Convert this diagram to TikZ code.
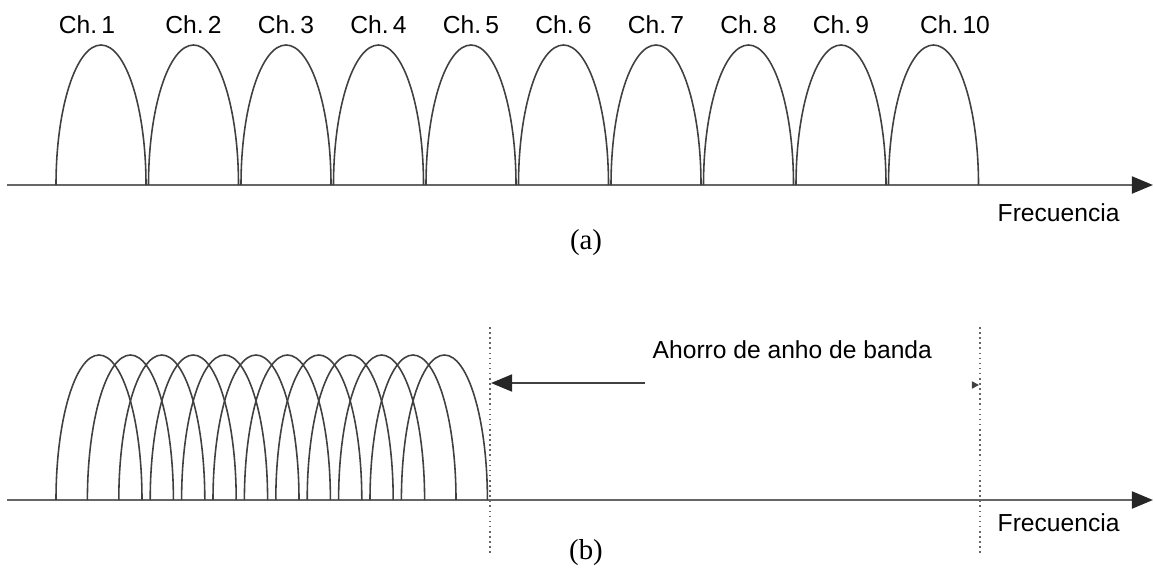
\documentclass[tikz,border=0pt]{standalone}
\usepackage{fontspec}
\setmainfont{Liberation Sans}
\newfontfamily\capfont{Liberation Serif}
\usetikzlibrary{arrows.meta}

\tikzset{
  axis/.style={draw=black!60, line width=0.7pt, -{Triangle[length=6pt,width=4.8pt,color=black!85]}},
  lobe/.style={draw=black!75, line width=0.45pt},
  guide/.style={draw=black!60, line width=0.45pt, densely dotted},
  lbl/.style={font=\fontsize{7}{8}\selectfont, inner sep=0pt},
  subcap/.style={font=\capfont\fontsize{8.2}{9}\selectfont, inner sep=0pt}
}

\begin{document}
\begin{tikzpicture}[x=0.01cm, y=0.01cm]

\useasboundingbox (0,0) rectangle (1155,575);

% (a) separate channels
\coordinate (a0) at (7,390);
\coordinate (a1) at (1153,390);
\draw[axis] (a0) -- (a1);

\foreach \i in {0,...,9}
  \draw[lobe] (56+92.5*\i,390) arc[start angle=180, end angle=0, x radius=45, y radius=140];

% Channel labels
\node[lbl] (ch1) at (87,550) {Ch.\,1};
\foreach \i in {2,...,9}
  \node[lbl] (ch\i) at (8.5+92.5*\i,550) {Ch.\,\i};
\node[lbl] (ch10) at (955,550) {Ch.\,10};

\node[lbl, anchor=west] (fa) at (997,362) {Frecuencia};
\node[subcap] (capa) at (586,332) {(a)};

% (b) overlapping channels
\coordinate (b0) at (7,75);
\coordinate (b1) at (1153,75);
\draw[axis] (b0) -- (b1);

\foreach \i in {0,...,11}
  \draw[lobe] (56+31.4*\i,75) arc[start angle=180, end angle=0, x radius=43, y radius=145];

% Dotted limits
\coordinate (d1t) at (490,248);
\coordinate (d1b) at (490,20);
\coordinate (d2t) at (980,248);
\coordinate (d2b) at (980,20);
\draw[guide] (d1t) -- (d1b);
\draw[guide] (d2t) -- (d2b);

% Saved band
\node[lbl, anchor=west] (save) at (652,225) {Ahorro de anho de banda};
\coordinate (s0) at (645,192);
\coordinate (s1) at (491,192);
\draw[axis, draw=black!75] (s0) -- (s1);
\coordinate (m0) at (973,190);
\coordinate (m1) at (979,190);
\draw[draw=black!75, -{Triangle[length=2pt,width=2pt]}] (m0) -- (m1);

\node[lbl, anchor=west] (fb) at (997,52) {Frecuencia};
\node[subcap] (capb) at (586,22) {(b)};

\end{tikzpicture}
\end{document}
